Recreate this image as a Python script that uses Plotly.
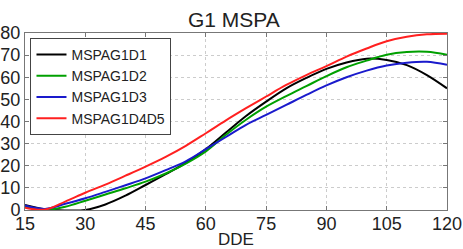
import plotly.graph_objects as go

dde = [15, 20, 25, 30, 35, 40, 45, 50, 55, 60, 65, 70, 75, 80, 85, 90, 95, 100, 105, 110, 115, 120]
mspag1d1 = [2.3, 0.3, -0.2, 0.0, 2.5, 6.5, 11.3, 16.2, 21.3, 27.5, 35.0, 42.5, 49.0, 55.0, 59.7, 63.8, 66.7, 68.4, 67.8, 65.5, 61.0, 55.0]
mspag1d2 = [1.5, 0.0, 1.5, 4.2, 7.0, 9.8, 12.8, 16.5, 21.0, 26.5, 34.0, 40.8, 46.7, 51.5, 56.0, 60.5, 64.5, 67.5, 70.2, 71.4, 71.5, 70.2]
mspag1d3 = [2.0, 0.5, 2.8, 5.3, 8.2, 11.2, 14.3, 18.0, 22.0, 27.5, 33.0, 38.5, 43.0, 47.5, 52.0, 56.3, 60.0, 63.0, 65.3, 66.6, 67.0, 65.6]
mspag1d4d5 = [1.0, 0.2, 3.8, 7.8, 11.5, 15.5, 19.6, 24.0, 29.0, 34.7, 40.5, 46.0, 51.3, 56.5, 61.0, 65.0, 69.3, 73.0, 76.3, 78.3, 79.4, 79.7]

series = [
    ("MSPAG1D1", mspag1d1, "#000000"),
    ("MSPAG1D2", mspag1d2, "#00a000"),
    ("MSPAG1D3", mspag1d3, "#1a1acc"),
    ("MSPAG1D4D5", mspag1d4d5, "#ff2020"),
]

x_ticks = [15, 30, 45, 60, 75, 90, 105, 120]
y_ticks = [0, 10, 20, 30, 40, 50, 60, 70, 80]

fig = go.Figure()
for name, vals, col in series:
    fig.add_trace(go.Scatter(x=dde, y=vals, name=name, mode="lines",
                             line=dict(color=col, width=2, shape="spline")))

font = "Liberation Sans, Arial, sans-serif"
fig.update_layout(
    width=463, height=249,
    margin=dict(l=25, r=16, t=33, b=39),
    paper_bgcolor="white", plot_bgcolor="white",
    font=dict(family=font, size=18, color="#222"),
    title=dict(text="G1 MSPA", x=0.505, xanchor="center", y=0.92, yanchor="middle",
               font=dict(size=21, color="#222")),
    showlegend=True,
    legend=dict(x=0.013, y=0.972, xanchor="left", yanchor="top",
                bgcolor="white", bordercolor="#444", borderwidth=1,
                font=dict(size=14, color="#222"), tracegroupgap=0),
)
fig.update_xaxes(range=[15, 120], tickvals=x_ticks, ticktext=[str(t) for t in x_ticks],
                 showline=True, linecolor="#777", linewidth=1, mirror="ticks",
                 ticks="inside", ticklen=4, tickcolor="#777", automargin=False,
                 ticklabelstandoff=-3,
                 showgrid=True, gridcolor="#ccc", griddash="dot", gridwidth=1,
                 zeroline=False, title=dict(text="DDE", standoff=0, font=dict(size=17)),
                 tickfont=dict(size=18))
fig.update_yaxes(range=[0, 80], tickvals=y_ticks, ticktext=[str(t) for t in y_ticks],
                 showline=True, linecolor="#777", linewidth=1, mirror="ticks",
                 ticks="inside", ticklen=4, tickcolor="#777", automargin=False,
                 showgrid=True, gridcolor="#ccc", griddash="dot", gridwidth=1,
                 zeroline=False, tickfont=dict(size=18))

fig.write_html("out.html", config={"displayModeBar": False},
               post_script="document.body.style.margin='0';document.body.style.overflow='hidden';")
